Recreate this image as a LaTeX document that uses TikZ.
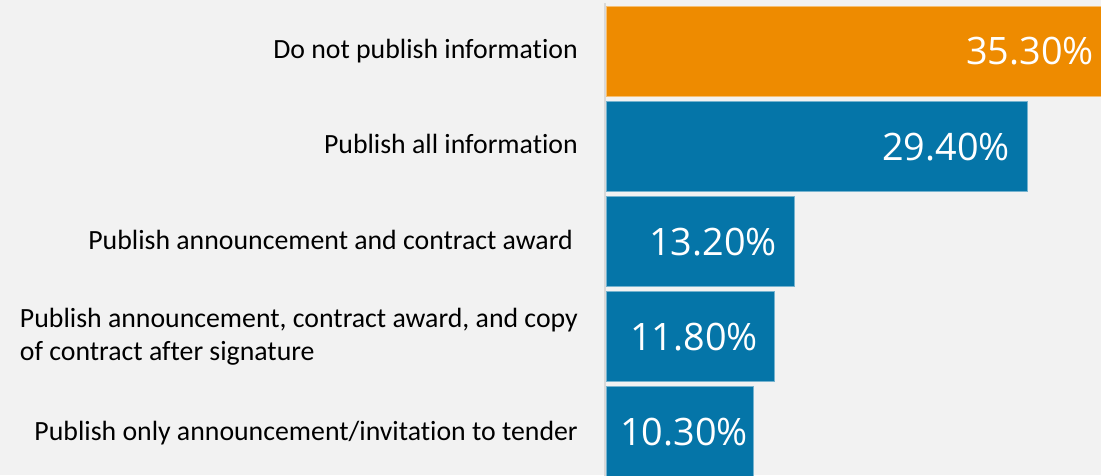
\documentclass[tikz,border=0pt]{standalone}
\usepackage{fontspec}
\setmainfont{Carlito}[Ligatures=NoCommon]
\newfontfamily\valfont{Open Sans}
\definecolor{bggray}{HTML}{F2F2F2}
\definecolor{axisgray}{HTML}{D9D9D9}
\definecolor{barorange}{HTML}{EE8B00}
\definecolor{barblue}{HTML}{0575A8}

\begin{document}
\begin{tikzpicture}[x=1pt, y=-1pt,
    catlabel/.style={anchor=base east, inner sep=0pt, text=black,
      font=\fontsize{27.8}{33.5}\selectfont},
    barvalue/.style={anchor=east, inner sep=0pt, text=white,
      font=\valfont\fontsize{37.8}{42}\selectfont},
    barline/.style={draw=white!45!barblue, line width=0.6pt}]
  \fill[bggray] (0,0) rectangle (1101,475);
  \clip (0,0) rectangle (1101,475);

  % axis
  \draw[axisgray, line width=2pt] (605,3) -- (605,476);

  % bars
  \filldraw[barline, fill=barorange, draw=white!45!barorange] (606,6) rectangle (1110,96);
  \filldraw[barline, fill=barblue] (606,101) rectangle (1027,191);
  \filldraw[barline, fill=barblue] (606,196) rectangle (794,286);
  \filldraw[barline, fill=barblue] (606,291) rectangle (774,381);
  \filldraw[barline, fill=barblue] (606,386) rectangle (753,478);

  % values
  \draw (1094,51)  node (v_nopub) [barvalue] {35.30\%};
  \draw (1010,147) node (v_all) [barvalue] {29.40\%};
  \draw (777,242)  node (v_award) [barvalue] {13.20\%};
  \draw (758,337)  node (v_copy) [barvalue] {11.80\%};
  \draw (748,432)  node (v_only) [barvalue] {10.30\%};

  % categories
  \draw (578,58.3)  node (c_nopub) [catlabel] {Do not publish information};
  \draw (578,153.5) node (c_all) [catlabel] {Publish all information};
  \draw (573,249) node (c_award) [catlabel] {Publish announcement and contract award};
  \draw (578,360.7) node (c_copy) [catlabel, align=left] {Publish announcement, contract award, and copy\\of contract after signature};
  \draw (578,440) node (c_only) [catlabel] {Publish only announcement/invitation to tender};
\end{tikzpicture}
\end{document}
